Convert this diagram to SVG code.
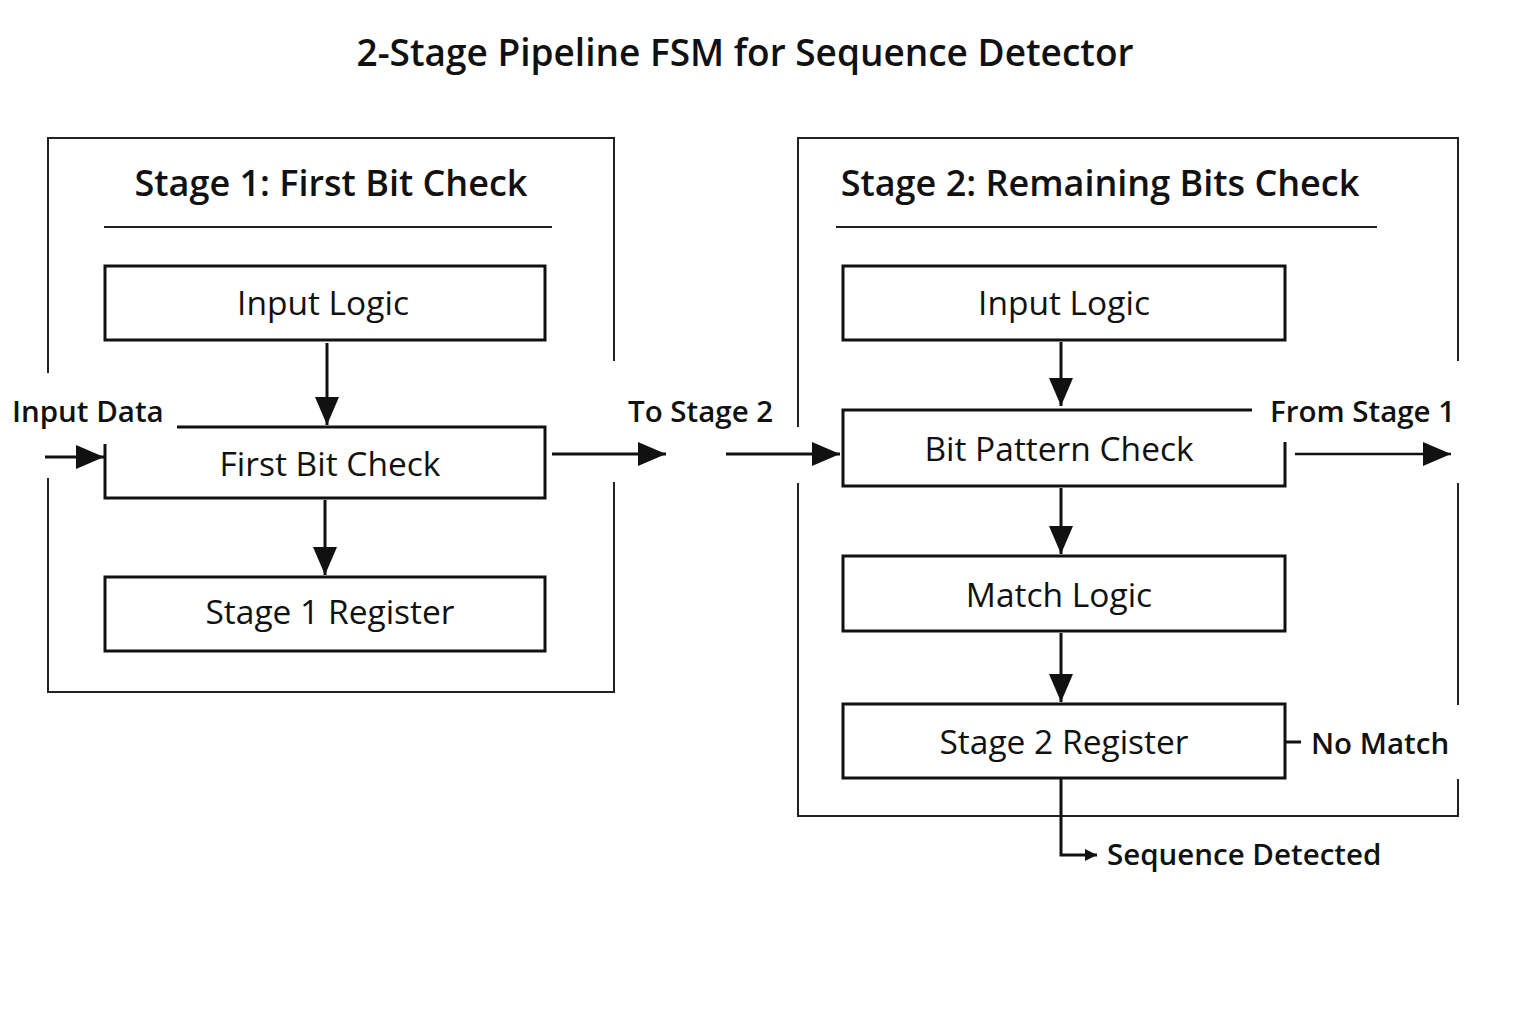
<svg xmlns="http://www.w3.org/2000/svg" width="1536" height="1024" viewBox="0 0 1536 1024">
<style>
.bg{fill:#fff}
.frame{fill:none;stroke:#222;stroke-width:2}
.box{fill:none;stroke:#111;stroke-width:3}
.rule{stroke:#222;stroke-width:2}
.wire{fill:none;stroke:#111;stroke-width:3}
.thin{fill:none;stroke:#111;stroke-width:2.5}
text{font-family:"Open Sans","Noto Sans","DejaVu Sans",sans-serif;fill:#111}
.title{font-size:37px;font-weight:600;text-anchor:middle}
.stitle{font-size:36px;font-weight:600;text-anchor:middle}
.lbl{font-size:33.5px;text-anchor:middle}
.side{font-size:29.5px;font-weight:600}
</style>
<defs>
<marker id="ah" markerUnits="userSpaceOnUse" markerWidth="30" markerHeight="26" refX="28" refY="12" orient="auto">
<path d="M0,0 L28,12 L0,24 Z" fill="#111"/>
</marker>
<marker id="ahs" markerUnits="userSpaceOnUse" markerWidth="14" markerHeight="14" refX="12" refY="6" orient="auto">
<path d="M0,0 L12,6 L0,12 Z" fill="#111"/>
</marker>
</defs>
<rect class="bg" width="1536" height="1024"/>
<text class="title" x="745" y="66">2-Stage Pipeline FSM for Sequence Detector</text>

<g id="stage1">
<path class="frame" d="M48,373 V138 H614 V361 M614,482 V692 H48 V478"/>
<text class="stitle" x="331" y="196">Stage 1: First Bit Check</text>
<line class="rule" x1="104" y1="227" x2="552" y2="227"/>
</g>
<g id="s1-input-logic">
<rect class="box" x="105" y="266" width="440" height="74"/>
<text class="lbl" x="323" y="315">Input Logic</text>
</g>
<g id="s1-first-bit-check">
<path class="box" d="M177,427 H545 V498 H105 V444"/>
<text class="lbl" x="330" y="476">First Bit Check</text>
</g>
<g id="s1-register">
<rect class="box" x="105" y="577" width="440" height="74"/>
<text class="lbl" x="330" y="624">Stage 1 Register</text>
</g>

<g id="stage2">
<path class="frame" d="M798,427 V138 H1458 V361 M1458,483 V705 M1458,779 V816 H798 V483"/>
<text class="stitle" x="1100" y="196">Stage 2: Remaining Bits Check</text>
<line class="rule" x1="836" y1="227" x2="1377" y2="227"/>
</g>
<g id="s2-input-logic">
<rect class="box" x="843" y="266" width="442" height="74"/>
<text class="lbl" x="1064" y="315">Input Logic</text>
</g>
<g id="s2-bit-pattern-check">
<path class="box" d="M1252,410 H843 V486 H1285 V442"/>
<text class="lbl" x="1059" y="461">Bit Pattern Check</text>
</g>
<g id="s2-match-logic">
<rect class="box" x="843" y="556" width="442" height="75"/>
<text class="lbl" x="1059" y="607">Match Logic</text>
</g>
<g id="s2-register">
<rect class="box" x="843" y="704" width="442" height="74"/>
<text class="lbl" x="1064" y="754">Stage 2 Register</text>
</g>

<g id="labels">
<text class="side" x="12" y="422">Input Data</text>
<text class="side" x="628" y="422">To Stage 2</text>
<text class="side" x="1270" y="422">From Stage 1</text>
<text class="side" x="1311" y="754">No Match</text>
<text class="side" x="1107" y="865">Sequence Detected</text>
</g>

<g id="connectors">
<line class="wire" x1="45" y1="457" x2="104" y2="457" marker-end="url(#ah)"/>
<line class="wire" x1="327" y1="343" x2="327" y2="425" marker-end="url(#ah)"/>
<line class="wire" x1="325" y1="500" x2="325" y2="575" marker-end="url(#ah)"/>
<line class="wire" x1="552" y1="454" x2="666" y2="454" marker-end="url(#ah)"/>
<line class="wire" x1="726" y1="454" x2="840" y2="454" marker-end="url(#ah)"/>
<line class="wire" x1="1061" y1="342" x2="1061" y2="406" marker-end="url(#ah)"/>
<line class="thin" x1="1295" y1="454" x2="1451" y2="454" marker-end="url(#ah)"/>
<line class="wire" x1="1061" y1="488" x2="1061" y2="554" marker-end="url(#ah)"/>
<line class="wire" x1="1061" y1="633" x2="1061" y2="702" marker-end="url(#ah)"/>
<line class="wire" x1="1285" y1="742" x2="1301" y2="742"/>
<path class="wire" d="M1061,778 V855 H1097" marker-end="url(#ahs)"/>
</g>
</svg>
